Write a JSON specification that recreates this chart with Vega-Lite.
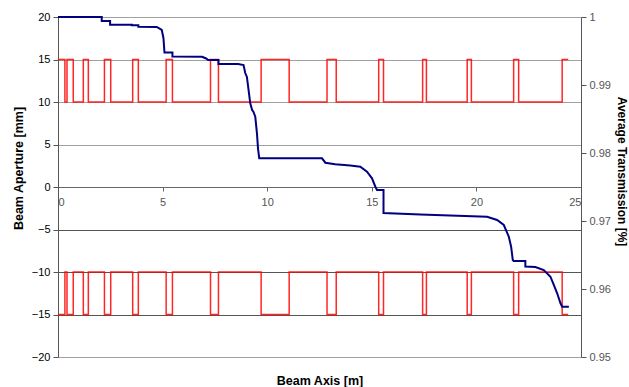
{
  "$schema": "https://vega.github.io/schema/vega-lite/v6.json",
  "width": 523,
  "height": 340,
  "autosize": {"type": "none"},
  "padding": {"left": 58, "top": 17, "right": 48, "bottom": 30},
  "background": "white",
  "config": {"view": {"stroke": null}, "font": "Liberation Sans"},
  "datasets": {
    "aperture": [
      {"side": "top", "x": 0, "y": 15}, {"side": "top", "x": 0.33, "y": 10}, {"side": "top", "x": 0.43, "y": 15}, {"side": "top", "x": 0.73, "y": 10},
      {"side": "top", "x": 1.21, "y": 15}, {"side": "top", "x": 1.45, "y": 10}, {"side": "top", "x": 2.22, "y": 15}, {"side": "top", "x": 2.52, "y": 10},
      {"side": "top", "x": 3.57, "y": 15}, {"side": "top", "x": 3.84, "y": 10}, {"side": "top", "x": 5.17, "y": 15}, {"side": "top", "x": 5.47, "y": 10},
      {"side": "top", "x": 7.29, "y": 15}, {"side": "top", "x": 7.67, "y": 10}, {"side": "top", "x": 9.71, "y": 15}, {"side": "top", "x": 11.05, "y": 10},
      {"side": "top", "x": 12.86, "y": 15}, {"side": "top", "x": 13.30, "y": 10}, {"side": "top", "x": 15.33, "y": 15}, {"side": "top", "x": 15.56, "y": 10},
      {"side": "top", "x": 17.43, "y": 15}, {"side": "top", "x": 17.61, "y": 10}, {"side": "top", "x": 19.56, "y": 15}, {"side": "top", "x": 19.76, "y": 10},
      {"side": "top", "x": 21.78, "y": 15}, {"side": "top", "x": 22.02, "y": 10}, {"side": "top", "x": 24.10, "y": 15}, {"side": "top", "x": 24.39, "y": 15},
      {"side": "bottom", "x": 0, "y": -15}, {"side": "bottom", "x": 0.33, "y": -10}, {"side": "bottom", "x": 0.43, "y": -15}, {"side": "bottom", "x": 0.73, "y": -10},
      {"side": "bottom", "x": 1.21, "y": -15}, {"side": "bottom", "x": 1.45, "y": -10}, {"side": "bottom", "x": 2.22, "y": -15}, {"side": "bottom", "x": 2.52, "y": -10},
      {"side": "bottom", "x": 3.57, "y": -15}, {"side": "bottom", "x": 3.84, "y": -10}, {"side": "bottom", "x": 5.17, "y": -15}, {"side": "bottom", "x": 5.47, "y": -10},
      {"side": "bottom", "x": 7.29, "y": -15}, {"side": "bottom", "x": 7.67, "y": -10}, {"side": "bottom", "x": 9.71, "y": -15}, {"side": "bottom", "x": 11.05, "y": -10},
      {"side": "bottom", "x": 12.86, "y": -15}, {"side": "bottom", "x": 13.30, "y": -10}, {"side": "bottom", "x": 15.33, "y": -15}, {"side": "bottom", "x": 15.56, "y": -10},
      {"side": "bottom", "x": 17.43, "y": -15}, {"side": "bottom", "x": 17.61, "y": -10}, {"side": "bottom", "x": 19.56, "y": -15}, {"side": "bottom", "x": 19.76, "y": -10},
      {"side": "bottom", "x": 21.78, "y": -15}, {"side": "bottom", "x": 22.02, "y": -10}, {"side": "bottom", "x": 24.10, "y": -15}, {"side": "bottom", "x": 24.39, "y": -15}
    ],
    "transmission": [
      {"i": 1, "x": 0, "t": 1.0}, {"i": 2, "x": 2.09, "t": 1.0}, {"i": 3, "x": 2.09, "t": 0.99941}, {"i": 4, "x": 2.49, "t": 0.99941},
      {"i": 5, "x": 2.49, "t": 0.99887}, {"i": 6, "x": 3.53, "t": 0.99887}, {"i": 7, "x": 3.53, "t": 0.99878}, {"i": 8, "x": 3.84, "t": 0.99878},
      {"i": 9, "x": 3.84, "t": 0.99857}, {"i": 10, "x": 4.72, "t": 0.99853}, {"i": 11, "x": 4.96, "t": 0.99809}, {"i": 12, "x": 5.04, "t": 0.99691},
      {"i": 13, "x": 5.09, "t": 0.99478}, {"i": 14, "x": 5.47, "t": 0.99478}, {"i": 15, "x": 5.47, "t": 0.99419}, {"i": 16, "x": 6.89, "t": 0.99416},
      {"i": 17, "x": 7.08, "t": 0.99390}, {"i": 18, "x": 7.18, "t": 0.99368}, {"i": 19, "x": 7.67, "t": 0.99368}, {"i": 20, "x": 7.67, "t": 0.99309},
      {"i": 21, "x": 8.61, "t": 0.99309}, {"i": 22, "x": 8.87, "t": 0.99294}, {"i": 23, "x": 8.95, "t": 0.99176}, {"i": 24, "x": 9.03, "t": 0.99118},
      {"i": 25, "x": 9.11, "t": 0.98926}, {"i": 26, "x": 9.19, "t": 0.98731}, {"i": 27, "x": 9.28, "t": 0.98632}, {"i": 28, "x": 9.34, "t": 0.98607},
      {"i": 29, "x": 9.43, "t": 0.98534}, {"i": 30, "x": 9.51, "t": 0.98290}, {"i": 31, "x": 9.56, "t": 0.98069}, {"i": 32, "x": 9.62, "t": 0.97922},
      {"i": 33, "x": 12.62, "t": 0.97922}, {"i": 34, "x": 12.78, "t": 0.97857}, {"i": 35, "x": 13.25, "t": 0.97834}, {"i": 36, "x": 13.97, "t": 0.97816},
      {"i": 37, "x": 14.45, "t": 0.97799}, {"i": 38, "x": 14.77, "t": 0.97725}, {"i": 39, "x": 15.01, "t": 0.97628}, {"i": 40, "x": 15.17, "t": 0.97504},
      {"i": 41, "x": 15.25, "t": 0.97456}, {"i": 42, "x": 15.56, "t": 0.97456}, {"i": 43, "x": 15.56, "t": 0.97118}, {"i": 44, "x": 17.32, "t": 0.97096},
      {"i": 45, "x": 20.51, "t": 0.97063}, {"i": 46, "x": 20.99, "t": 0.97015}, {"i": 47, "x": 21.31, "t": 0.96941}, {"i": 48, "x": 21.55, "t": 0.96769},
      {"i": 49, "x": 21.66, "t": 0.96622}, {"i": 50, "x": 21.74, "t": 0.96426}, {"i": 51, "x": 21.78, "t": 0.96412}, {"i": 52, "x": 22.34, "t": 0.96412},
      {"i": 53, "x": 22.34, "t": 0.96331}, {"i": 54, "x": 22.82, "t": 0.96324}, {"i": 55, "x": 23.22, "t": 0.96279}, {"i": 56, "x": 23.54, "t": 0.96181},
      {"i": 57, "x": 23.70, "t": 0.96059}, {"i": 58, "x": 23.86, "t": 0.95937}, {"i": 59, "x": 24.02, "t": 0.95790}, {"i": 60, "x": 24.10, "t": 0.95740},
      {"i": 61, "x": 24.42, "t": 0.95740}
    ]
  },
  "encoding": {
    "x": {
      "field": "x", "type": "quantitative",
      "scale": {"domain": [0, 25], "nice": false},
      "axis": {
        "orient": "bottom", "offset": -170, "values": [0, 5, 10, 15, 20, 25], "grid": false,
        "domainColor": "#666666", "tickColor": "#666666", "tickSize": 4,
        "labelColor": "#555555", "labelFontSize": 11, "labelPadding": 5,
        "title": "Beam Axis [m]", "titleFontSize": 12.5, "titleFontWeight": "bold", "titleColor": "black",
        "titleY": 193, "titleBaseline": "middle"
      }
    }
  },
  "layer": [
    {
      "data": {"name": "aperture"},
      "mark": {"type": "line", "interpolate": "step-after", "color": "#ff0000", "strokeWidth": 1.5, "opacity": 0.85},
      "encoding": {
        "y": {
          "field": "y", "type": "quantitative",
          "scale": {"domain": [-20, 20], "nice": false},
          "axis": {
            "orient": "left", "values": [-20, -15, -10, -5, 0, 5, 10, 15, 20], "grid": true,
            "gridColor": {"condition": {"test": "datum.value < 0 && datum.value > -20", "value": "#555555"}, "value": "#a0a0a0"},
            "domainColor": "#555555", "tickColor": "#555555", "tickSize": 5,
            "labelColor": "black", "labelFontSize": 11, "labelPadding": 3,
            "title": "Beam Aperture [mm]", "titleFontSize": 12.5, "titleFontWeight": "bold", "titleColor": "black",
            "titleX": -40, "titleY": 151, "titleBaseline": "middle", "titleAlign": "center"
          }
        },
        "detail": {"field": "side"}
      }
    },
    {
      "data": {"name": "transmission"},
      "mark": {"type": "line", "color": "#000080", "strokeWidth": 2},
      "encoding": {
        "y": {
          "field": "t", "type": "quantitative",
          "scale": {"domain": [0.95, 1], "nice": false, "zero": false},
          "axis": {
            "orient": "right", "values": [0.95, 0.96, 0.97, 0.98, 0.99, 1], "format": ".2~f", "grid": false,
            "domainColor": "#555555", "tickColor": "#555555", "tickSize": 5,
            "labelColor": "#555555", "labelFontSize": 11, "labelPadding": 3,
            "title": "Average Transmission [%]", "titleFontSize": 12, "titleFontWeight": "bold", "titleColor": "black",
            "titleX": 40, "titleY": 154, "titleBaseline": "middle", "titleAlign": "center"
          }
        },
        "order": {"field": "i"}
      }
    }
  ],
  "resolve": {"scale": {"y": "independent"}}
}
